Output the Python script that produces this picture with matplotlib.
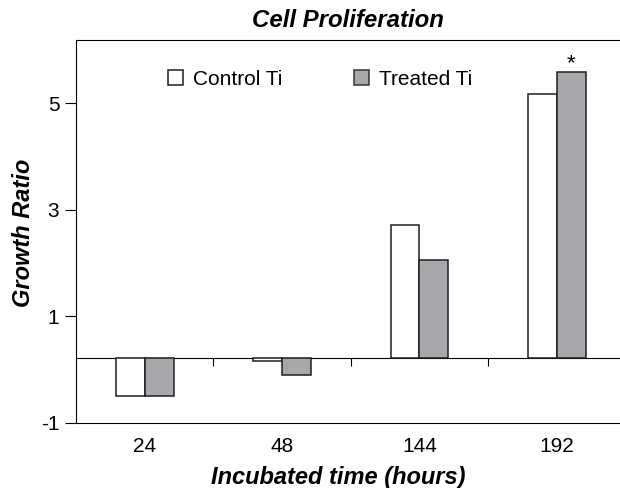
import numpy as np
import matplotlib
matplotlib.use("Agg")
import matplotlib.pyplot as plt
from matplotlib.patches import Patch

plt.rcParams['font.family'] = ['Liberation Sans', 'DejaVu Sans']

# data (axis units as labelled)
hours = ["24", "48", "144", "192"]
control = [-0.49, 0.16, 2.72, 5.18]
treated = [-0.49, -0.11, 2.05, 5.58]
baseline = 0.21
yticks = [-1, 1, 3, 5]
star_on = [False, False, False, True]   # significance marks on treated bars

gray = "#a7a8ab"
edge = "#1e1e1e"

fig = plt.figure(figsize=(6.2, 4.88), dpi=100)
ax = fig.add_axes([76/620, 65.3/488, 1 - 76/620, (448 - 65.3)/488])

x = np.arange(len(hours))
w = 0.21
c_h = np.array(control) - baseline
t_h = np.array(treated) - baseline
ax.bar(x - w/2, c_h, w, bottom=baseline, color="white", edgecolor=edge, linewidth=1.1)
tb = ax.bar(x + w/2, t_h, w, bottom=baseline, color=gray, edgecolor=edge, linewidth=1.1)

for rect, s in zip(tb, star_on):
    if s:
        ax.annotate("*", (rect.get_x() + rect.get_width()/2, rect.get_y() + rect.get_height()),
                    xytext=(0, 2.7), textcoords="offset points",
                    ha="center", va="baseline", fontsize=16)

ax.set_xlim(-0.5, 3.46)
ax.set_ylim(-1, 6.19)

ax.set_yticks(yticks)
ax.set_yticklabels([str(v) for v in yticks])
ax.tick_params(axis="y", direction="out", length=8, width=0.8, pad=4, labelsize=15)
ax.set_xticks(x)
ax.set_xticklabels(hours)
ax.tick_params(axis="x", length=0, pad=10, labelsize=15)

ax.spines["right"].set_visible(False)
for s in ["left", "bottom", "top"]:
    ax.spines[s].set_linewidth(0.8)

# baseline with boundary ticks
sec = ax.secondary_xaxis((baseline + 1) / (6.19 + 1))
sec.set_xticks([0.5, 1.5, 2.5])
sec.set_xticklabels([])
sec.tick_params(axis="x", direction="out", length=6, width=0.8)
sec.spines["bottom"].set_linewidth(0.8)
sec.spines["top"].set_linewidth(0.8)

ax.set_title("Cell Proliferation", fontsize=17.3, fontweight="bold", style="italic", pad=9.6)
ax.set_ylabel("Growth Ratio", fontsize=17, fontweight="bold", style="italic")
ax.yaxis.set_label_coords(-0.075, 0.497)
ax.set_xlabel("Incubated time (hours)", fontsize=17, fontweight="bold", style="italic")
ax.xaxis.set_label_coords(0.482, -0.112)

handles = [Patch(facecolor="white", edgecolor=edge, linewidth=1.1, label="Control Ti"),
           Patch(facecolor=gray, edgecolor="#333333", linewidth=1.1, label="Treated Ti")]
ax.legend(handles=handles, loc="center left", bbox_to_anchor=(0.169, 0.8976), ncol=2,
          frameon=False, fontsize=15, handlelength=0.72, handleheight=0.72,
          handletextpad=0.48, columnspacing=3.45, borderpad=0, borderaxespad=0)

fig.savefig("out.png", dpi=100)
